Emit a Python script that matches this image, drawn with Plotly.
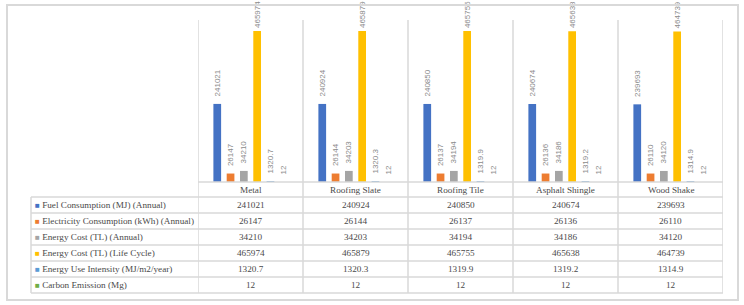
import plotly.graph_objects as go

categories = ["Metal", "Roofing Slate", "Roofing Tile", "Asphalt Shingle", "Wood Shake"]
series_names = [
    "Fuel Consumption (MJ) (Annual)",
    "Electricity Consumption (kWh) (Annual)",
    "Energy Cost (TL) (Annual)",
    "Energy Cost (TL) (Life Cycle)",
    "Energy Use Intensity (MJ/m2/year)",
    "Carbon Emission (Mg)",
]
fuel = [241021, 240924, 240850, 240674, 239693]
electricity = [26147, 26144, 26137, 26136, 26110]
cost_annual = [34210, 34203, 34194, 34186, 34120]
cost_life = [465974, 465879, 465755, 465638, 464739]
eui = [1320.7, 1320.3, 1319.9, 1319.2, 1314.9]
carbon = [12, 12, 12, 12, 12]
series_values = [fuel, electricity, cost_annual, cost_life, eui, carbon]
colors = ["#4472C4", "#ED7D31", "#A5A5A5", "#FFC000", "#5B9BD5", "#70AD47"]

W, H = 744, 305


def px(x):
    return x / W


def py(y):
    return 1 - y / H


fig = go.Figure()
for i, (name, vals, col) in enumerate(zip(series_names, series_values, colors)):
    pad = "" if i == 3 else "\u00a0\u00a0"
    fig.add_trace(go.Bar(
        x=categories, y=vals, name=name, marker_color=col,
        marker_line_width=0,
        text=[str(v) for v in vals], texttemplate=pad + "%{text}",
        textposition="outside", textangle=-90,
        constraintext="none", cliponaxis=False,
        textfont=dict(size=8, color="#8a8a8a", family="Liberation Sans"),
        showlegend=False, hoverinfo="skip",
    ))

grid = "#d9d9d9"
shapes = []
# outer border
shapes.append(dict(type="rect", xref="paper", yref="paper", x0=px(7), x1=px(738),
                   y0=py(300), y1=py(5), line=dict(color=grid, width=2)))
# category separators
for k in range(len(categories) + 1):
    shapes.append(dict(type="line", xref="x", yref="paper", x0=k - 0.5, x1=k - 0.5,
                       y0=py(20), y1=py(293), line=dict(color=grid, width=1.5)))
# baseline / header top
shapes.append(dict(type="line", xref="x", yref="paper", x0=-0.5, x1=len(categories) - 0.5,
                   y0=py(182), y1=py(182), line=dict(color=grid, width=1.5)))
row_lines = [197, 213, 229, 245, 261, 277, 293]
for yy in row_lines:
    shapes.append(dict(type="line", xref="paper", yref="paper", x0=px(31), x1=px(723),
                       y0=py(yy), y1=py(yy), line=dict(color=grid, width=1.5)))
shapes.append(dict(type="line", xref="paper", yref="paper", x0=px(31), x1=px(31),
                   y0=py(197), y1=py(293), line=dict(color=grid, width=1.5)))

tfont = dict(family="Liberation Serif", size=9.2, color="#4a4a4a")
annotations = []
for c in categories:
    annotations.append(dict(x=c, xref="x", y=py(189.5), yref="paper", text=c,
                            showarrow=False, font=tfont, xanchor="center", yanchor="middle"))
for i, (name, vals, col) in enumerate(zip(series_names, series_values, colors)):
    yc = py(205 + 16 * i)
    annotations.append(dict(
        x=px(33), xref="paper", y=yc, yref="paper",
        text=f'<span style="color:{col};font-size:8px">■</span> {name}',
        showarrow=False, font=tfont, xanchor="left", yanchor="middle"))
    for c, v in zip(categories, vals):
        annotations.append(dict(x=c, xref="x", y=yc, yref="paper", text=str(v),
                                showarrow=False, font=tfont, xanchor="center", yanchor="middle"))

fig.update_layout(
    width=W, height=H, margin=dict(l=0, r=0, t=0, b=0),
    paper_bgcolor="white", plot_bgcolor="white",
    barmode="group", bargap=0.24, bargroupgap=0.42,
    xaxis=dict(domain=[px(198), px(723)], range=[-0.5, len(categories) - 0.5],
               showticklabels=False, showgrid=False, zeroline=False, showline=False,
               fixedrange=True),
    yaxis=dict(domain=[py(182), py(20)], range=[0, 500000], visible=False,
               showgrid=False, zeroline=False, fixedrange=True),
    shapes=shapes, annotations=annotations,
)

fig.write_html("out.html", config={"displayModeBar": False},
               post_script="document.body.style.margin='0px';document.body.style.overflow='hidden';")
